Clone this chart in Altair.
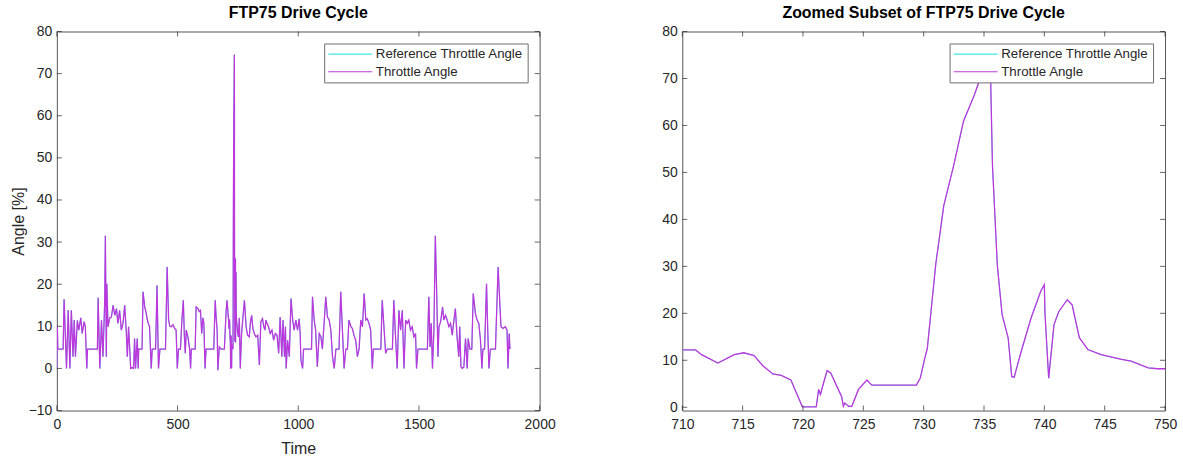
import altair as alt
import pandas as pd

# ---- Full FTP75 cycle: time [s], throttle angle [%]
cycle_time = [0, 2, 4, 26, 30, 40, 47, 54, 60, 67, 72, 77, 85, 91, 99, 105, 113, 118, 124, 127,
              168, 171, 178, 185, 191, 198, 201, 205, 207, 212, 219, 226, 233, 240, 247, 253, 260,
              267, 274, 281, 288, 292, 297, 306, 313, 318, 322, 326, 333, 337, 339, 353, 357, 364,
              370, 375, 380, 384, 391, 395, 409, 415, 421, 427, 450, 457, 463, 468, 474, 481, 488,
              494, 499, 504, 512, 518, 524, 528, 532, 536, 543, 550, 554, 557, 573, 577, 585, 590,
              595, 600, 605, 609, 614, 618, 650, 656, 660, 664, 667, 673, 680, 694, 701, 705, 708,
              752, 756, 760, 765, 770, 777, 784, 790, 797, 802, 807, 812, 818, 825, 832, 839, 845,
              852, 857, 862, 866, 870, 877, 884, 891, 898, 905, 912, 919, 925, 932, 937, 943, 947,
              950, 956, 963, 970, 977, 983, 990, 997, 1004, 1008, 1011, 1018, 1022, 1055, 1059,
              1066, 1072, 1079, 1087, 1094, 1100, 1108, 1114, 1121, 1128, 1135, 1142, 1149, 1156,
              1169, 1176, 1183, 1190, 1197, 1204, 1210, 1218, 1224, 1231, 1238, 1245, 1252, 1259,
              1266, 1273, 1280, 1286, 1293, 1300, 1307, 1311, 1342, 1348, 1355, 1362, 1369, 1390,
              1396, 1403, 1410, 1417, 1424, 1431, 1438, 1445, 1451, 1458, 1465, 1472, 1479, 1486,
              1490, 1496, 1535, 1541, 1546, 1551, 1556, 1562, 1568, 1573, 1579, 1583, 1590, 1598,
              1603, 1610, 1617, 1624, 1631, 1638, 1645, 1651, 1658, 1665, 1669, 1674, 1679, 1686,
              1693, 1700, 1704, 1711, 1719, 1725, 1734, 1741, 1748, 1755, 1761, 1765, 1772, 1780,
              1785, 1790, 1796, 1817, 1824, 1828, 1835, 1840, 1848, 1858, 1865, 1869, 1874, 1877]
cycle_angle = [0, 10, 4.6, 4.6, 16.4, 0, 13.8, 0, 13.8, 2.8, 11.5, 2.8, 11.4, 9.1, 12, 8.3, 11.1, 9.9, 0, 4.6,
               4.6, 16.8, 0, 11.5, 2.8, 15.4, 31.5, 2.8, 20.1, 9.9, 12.0, 12.2, 15.0, 12.6, 14.2, 10.7, 13.8,
               9.1, 10.7, 15.0, 8.3, 2.8, 9.9, 0, 0.2, 0, 7.1, 0, 7.1, 0, 4.6, 4.6, 18.2, 14.6,
               13.2, 11.5, 10.5, 9.9, 0, 4.6, 4.6, 19.7, 0, 4.6, 4.6, 24.1, 11.5, 10.0, 9.9, 10.4, 9.5,
               9.1, 0, 4.6, 4.6, 11.5, 16.2, 8, 3.6, 9.1, 7.5, 4.6, 0, 4.6, 4.6, 14.6, 14.2, 13.5,
               13.8, 8.3, 12, 10.7, 0, 4.6, 4.6, 16.2, 12, 9.1, -0.4, 5.1, 4.6, 4.6, 13.4, 16.2, 14,
               7.5, 12, 0, 8, 11.5, 16.2, 9.9, 7.9, 7.5, 11, 12.6, 9.5, 8.3, 7.5, 7.9, 0.8, 11.1,
               11.8, 10, 9.1, 11.5, 10.7, 9.9, 8.3, 9.1, 6.7, 8.3, 7.9, 3.6, 12.2, 2.8, 11.5, 2.8, 9.9,
               0, 6.7, 2.8, 16.6, 11.5, 9.1, 11.5, 9.1, 11.8, 8.3, 2.0, 0, 4.6, 4.6, 17.0,
               11.5, 9.1, 0.4, 8.3, 7.5, 4.6, 11.5, 17.0, 12.2, 11.5, 9.1, 2.8, 0, 4.6,
               4.6, 18.2, 9.1, 0, 4.6, 4.6, 11.5, 9.9, 9.5, 7.9, 6.7, 2.8, 4.6, 11.5,
               9.9, 17.8, 11.5, 11.8, 10.7, 9.1, 0, 4.6, 4.6, 16.2, 9.9, 3.6, 4.6, 4.6,
               16.2, 7.5, 0, 13.8, 9.1, 13.8, 0, 11.5, 10.7, 11.5, 9.1, 9.9, 7.5, 8.3,
               0, 4.6, 4.6, 17.0, 5.1, 10.7, 0, 9.1, 31.5, 19.4, 2.8, 9.9, 11.1, 14.6,
               11.5, 12.6, 11.5, 9.9, 10.7, 7.9, 11.5, 14.2, 7.5, 2.8, 9.9, 0.4, 0, 0.3,
               7.1, 0, 7.1, 4.6, 4.6, 17.8, 13.0, 11.5, 10.7, 6.7, 0, 4.6, 4.6, 20.1,
               9.1, 0, 4.6, 4.6, 17.0, 24.1, 15.4, 9.9, 9.5, 9.9, 9.1, 0, 8.3, 4.6]

# ---- Zoomed subset 710-750 s
detail_time = [710, 711.1, 711.6, 712.95, 714.3, 715.1, 715.95, 716.65, 717.5, 718.2, 719.0, 719.95,
               721.1, 721.3, 721.45, 721.6, 722.0, 722.3, 722.8, 723.2, 723.35, 723.45, 723.8, 724.05,
               724.6, 725.3, 725.7, 729.4, 729.72, 730.1, 730.3, 731.0, 731.67, 732.5, 733.3, 734.2,
               734.6, 735.0, 735.4, 735.55, 735.7, 736.1, 736.5, 737.0, 737.3, 737.5, 738.05, 738.9,
               739.7, 740.0, 740.05, 740.36, 740.8, 741.2, 741.9, 742.3, 742.9, 743.6, 744.7, 746.4,
               747.2, 748.6, 749.4, 750.0]
detail_angle = [12.2, 12.2, 11.2, 9.4, 11.2, 11.6, 11.0, 8.9, 7.1, 6.8, 5.8, 0.1,
                0.1, 3.8, 2.7, 4.2, 7.8, 7.3, 4.5, 2.3, 0.2, 0.9, 0.2, 0.2,
                3.8, 5.8, 4.7, 4.7, 6.2, 10.5, 12.5, 30.4, 43, 51.6, 60.9, 66.5,
                69.4, 72.0, 74.5, 69.7, 51.6, 30.4, 19.7, 14.8, 6.5, 6.4, 11.6, 19.0,
                24.7, 26.1, 20, 6.2, 17.6, 20.4, 22.9, 21.8, 14.8, 12.3, 11.2, 10.2,
                9.8, 8.4, 8.2, 8.2]

series_names = ["Reference Throttle Angle", "Throttle Angle"]
series_colors = ["#45E5E5", "#BC38DC"]
series_widths = [1.0, 1.3]

left_x_ticks = [0, 500, 1000, 1500, 2000]
left_y_ticks = [-10, 0, 10, 20, 30, 40, 50, 60, 70, 80]
right_x_ticks = [710, 715, 720, 725, 730, 735, 740, 745, 750]
right_y_ticks = [0, 10, 20, 30, 40, 50, 60, 70, 80]

W, H = 484, 380
FONT = "Liberation Sans"
INK = "#262626"

# full-cycle series: coarse points outside the zoom window + detailed points inside
pairs = [(t, a) for t, a in zip(cycle_time, cycle_angle) if t < 710 or t > 750]
pairs += list(zip(detail_time, detail_angle))
pairs.sort()
full_t = [p[0] for p in pairs]
full_a = [p[1] for p in pairs]


def frame(times, angles, name):
    return pd.DataFrame({"Time": times, "Angle": angles, "Series": [name] * len(times)})


color_scale = alt.Scale(domain=series_names, range=series_colors)
legend = alt.Legend(title=None, orient="top-right", offset=12, fillColor="white",
                    strokeColor="#6e6e6e", padding=4, symbolType="M-4,0H4", symbolSize=121,
                    symbolStrokeWidth=1.2, symbolOffset=15.5, labelOffset=19, labelFont=FONT,
                    labelFontSize=13.3, labelColor=INK, rowPadding=3.7, labelLimit=400)


def panel(times, angles, xdom, ydom, xticks, yticks, title, xtitle, ytitle):
    xs = alt.Scale(domain=xdom, nice=False, zero=False)
    ys = alt.Scale(domain=ydom, nice=False, zero=False)
    xkw = dict(values=xticks, labelPadding=7, format="d", domain=False, ticks=False, grid=False,
               labelFlush=False, labelOverlap=False)
    ykw = dict(values=yticks, labelPadding=5, format="d", domain=False, ticks=False, grid=False,
               labelFlush=False, labelOverlap=False)
    if xtitle:
        xaxis = alt.Axis(title=xtitle, titlePadding=9, **xkw)
    else:
        xaxis = alt.Axis(title="", **xkw)
    if ytitle:
        yaxis = alt.Axis(title=ytitle, titlePadding=2, **ykw)
    else:
        yaxis = alt.Axis(title="", **ykw)
    layers = []
    for name, sw in zip(series_names, series_widths):
        layers.append(
            alt.Chart(frame(times, angles, name)).mark_line(strokeWidth=sw, clip=True).encode(
                x=alt.X("Time:Q", scale=xs, axis=xaxis),
                y=alt.Y("Angle:Q", scale=ys, axis=yaxis),
                color=alt.Color("Series:N", scale=color_scale, legend=legend),
            )
        )
    xt = alt.Chart(pd.DataFrame({"Time": xticks})).mark_tick(orient="vertical", size=5, thickness=1, color=INK)
    yt = alt.Chart(pd.DataFrame({"Angle": yticks})).mark_tick(orient="horizontal", size=5, thickness=1, color=INK)
    layers += [
        xt.encode(x=alt.X("Time:Q", scale=xs, axis=xaxis), y=alt.value(H - 2.5)),
        xt.encode(x=alt.X("Time:Q", scale=xs, axis=xaxis), y=alt.value(2.5)),
        yt.encode(y=alt.Y("Angle:Q", scale=ys, axis=yaxis), x=alt.value(2.5)),
        yt.encode(y=alt.Y("Angle:Q", scale=ys, axis=yaxis), x=alt.value(W - 2.5)),
    ]
    return alt.layer(*layers).properties(
        width=W, height=H,
        title=alt.TitleParams(title, font=FONT, fontSize=16, fontWeight="bold", color="black",
                              offset=4, anchor="middle"),
    )


left = panel(full_t, full_a, [0, 2000], [-10, 80], left_x_ticks, left_y_ticks,
             "FTP75 Drive Cycle", "Time", "Angle [%]")
right = panel(detail_time, detail_angle, [710, 750], [-0.7, 80], right_x_ticks, right_y_ticks,
              "Zoomed Subset of FTP75 Drive Cycle", None, None)

chart = alt.hconcat(left, right, spacing=143, bounds="flush").resolve_scale(
    color="independent"
).properties(
    padding={"left": 9, "top": 3, "right": 5, "bottom": 5},
    background="white",
).configure_view(stroke="#555555", strokeWidth=1).configure_axis(
    labelFont=FONT, labelFontSize=14, labelColor=INK,
    titleFont=FONT, titleFontSize=16, titleFontWeight="normal", titleColor=INK,
)

chart.save("out.html", embed_options={"renderer": "svg", "actions": False})
